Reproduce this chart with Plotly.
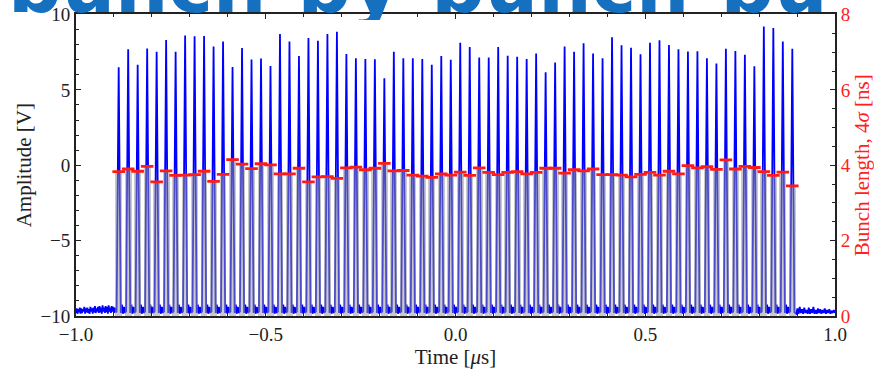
import plotly.graph_objects as go

# ---------------- data ----------------
bunch_time_us = [-0.8875, -0.8625, -0.8375, -0.8125, -0.7875, -0.7625, -0.7375, -0.7125, -0.6875, -0.6625,
                 -0.6375, -0.6125, -0.5875, -0.5625, -0.5375, -0.5125, -0.4875, -0.4625, -0.4375, -0.4125,
                 -0.3875, -0.3625, -0.3375, -0.3125, -0.2875, -0.2625, -0.2375, -0.2125, -0.1875, -0.1625,
                 -0.1375, -0.1125, -0.0875, -0.0625, -0.0375, -0.0125, 0.0125, 0.0375, 0.0625, 0.0875,
                 0.1125, 0.1375, 0.1625, 0.1875, 0.2125, 0.2375, 0.2625, 0.2875, 0.3125, 0.3375,
                 0.3625, 0.3875, 0.4125, 0.4375, 0.4625, 0.4875, 0.5125, 0.5375, 0.5625, 0.5875,
                 0.6125, 0.6375, 0.6625, 0.6875, 0.7125, 0.7375, 0.7625, 0.7875, 0.8125, 0.8375,
                 0.8625, 0.8875]

peak_amplitude_V = [6.50, 7.70, 6.66, 7.74, 7.52, 8.31, 7.52, 8.60, 8.56, 8.58,
                    7.87, 8.20, 6.52, 7.78, 7.01, 7.08, 6.59, 8.71, 8.20, 7.25,
                    8.44, 8.25, 8.71, 8.86, 7.38, 7.10, 7.05, 7.03, 5.77, 7.52,
                    7.10, 7.10, 7.05, 6.66, 7.25, 6.99, 8.13, 7.85, 7.14, 7.14,
                    7.85, 7.27, 7.19, 7.05, 7.41, 6.17, 6.81, 7.87, 7.52, 8.09,
                    7.41, 7.10, 8.49, 7.96, 7.80, 7.36, 8.13, 8.29, 7.98, 7.70,
                    7.54, 7.56, 7.10, 6.74, 7.72, 7.58, 7.32, 6.57, 9.20, 9.10,
                    8.20, 7.72]

bunch_length_ns = [3.83, 3.90, 3.84, 3.97, 3.56, 3.85, 3.73, 3.74, 3.75, 3.84,
                   3.57, 3.76, 4.15, 4.03, 3.91, 4.04, 4.01, 3.77, 3.77, 3.92,
                   3.56, 3.69, 3.70, 3.65, 3.93, 3.95, 3.88, 3.92, 4.05, 3.85,
                   3.86, 3.74, 3.71, 3.68, 3.77, 3.74, 3.82, 3.73, 3.93, 3.81,
                   3.75, 3.81, 3.83, 3.77, 3.81, 3.92, 3.92, 3.79, 3.88, 3.85,
                   3.90, 3.75, 3.75, 3.74, 3.69, 3.76, 3.81, 3.74, 3.84, 3.77,
                   3.99, 3.93, 3.96, 3.89, 4.14, 3.90, 3.97, 3.94, 3.83, 3.73,
                   3.82, 3.45]

# baseline (no beam) noise read off the trace before and after the train
pre_time_us = [-1.000, -0.998, -0.996, -0.994, -0.992, -0.990, -0.988, -0.986, -0.984, -0.982,
               -0.980, -0.978, -0.976, -0.974, -0.972, -0.970, -0.968, -0.966, -0.964, -0.962,
               -0.960, -0.958, -0.956, -0.954, -0.952, -0.950, -0.948, -0.946, -0.944, -0.942,
               -0.940, -0.938, -0.936, -0.934, -0.932, -0.930, -0.928, -0.926, -0.924, -0.922,
               -0.920, -0.918, -0.916, -0.914, -0.912, -0.910, -0.908, -0.906, -0.904, -0.902,
               -0.900, -0.898, -0.896]
pre_level_V = [-9.80, -9.50, -9.85, -9.55, -9.75, -9.45, -9.85, -9.50, -9.80, -9.55,
               -9.70, -9.40, -9.85, -9.50, -9.75, -9.45, -9.80, -9.55, -9.85, -9.40,
               -9.70, -9.50, -9.85, -9.45, -9.75, -9.35, -9.80, -9.50, -9.70, -9.40,
               -9.80, -9.35, -9.75, -9.45, -9.85, -9.30, -9.70, -9.45, -9.80, -9.35,
               -9.75, -9.40, -9.85, -9.30, -9.70, -9.45, -9.80, -9.35, -9.70, -9.40,
               -9.80, -9.45, -9.70]
post_time_us = [0.898, 0.901, 0.904, 0.907, 0.910, 0.913, 0.916, 0.919, 0.922, 0.925,
                0.928, 0.931, 0.934, 0.937, 0.940, 0.943, 0.946, 0.949, 0.952, 0.955,
                0.958, 0.961, 0.964, 0.967, 0.970, 0.973, 0.976, 0.979, 0.982, 0.985,
                0.988, 0.991, 0.994, 0.997, 1.000]
post_level_V = [-9.85, -9.50, -9.85, -9.40, -9.80, -9.55, -9.85, -9.45, -9.80, -9.60,
                -9.85, -9.45, -9.85, -9.55, -9.80, -9.40, -9.85, -9.60, -9.85, -9.50,
                -9.80, -9.55, -9.85, -9.60, -9.80, -9.50, -9.85, -9.60, -9.80, -9.55,
                -9.85, -9.65, -9.80, -9.60, -9.80]

# ringing between bunches: (offset after bunch [us], level [V])
ring_offset_us = [0.0055, 0.0085, 0.0110, 0.0140, 0.0170, 0.0195]
ring_level_V = [-9.80, -9.25, -9.85, -9.40, -9.80, -9.50]
spike_half_base_us = 0.0055
spike_foot_V = -9.75

heading_text = "bunch-by-bunch-bu"

assert len(bunch_time_us) == len(peak_amplitude_V) == len(bunch_length_ns) == 72

# ---------------- build waveform from the data ----------------
wx = list(pre_time_us)
wy = list(pre_level_V)
for i, (t, a) in enumerate(zip(bunch_time_us, peak_amplitude_V)):
    wx += [t - spike_half_base_us, t, t + spike_half_base_us]
    wy += [spike_foot_V, a, spike_foot_V]
    if i < len(bunch_time_us) - 1:
        wx += [t + o for o in ring_offset_us]
        wy += list(ring_level_V)
wx += post_time_us
wy += post_level_V

serif = "Liberation Serif"
W, H = 874, 374
L, R, T = 76, 835, 14.5                 # plot frame in page pixels
MB = 57.5                               # bottom margin
paper_h = H - MB

fig = go.Figure()
fig.add_trace(go.Scatter(x=wx, y=wy, mode="lines",
                         line=dict(color="#0000ff", width=1.8),
                         hoverinfo="skip", showlegend=False))
fig.add_trace(go.Bar(x=bunch_time_us, y=bunch_length_ns, yaxis="y2",
                     width=0.0178, marker=dict(color="rgb(150,150,150)", line=dict(width=0)),
                     opacity=0.5, showlegend=False))
fig.add_trace(go.Scatter(x=bunch_time_us, y=bunch_length_ns, yaxis="y2", mode="markers",
                         marker=dict(symbol="line-ew", size=9,
                                     line=dict(color="#ff1a1a", width=2.8)),
                         showlegend=False))

# cropped slide heading at the very top (clipped to a thin strip)
fig.add_trace(go.Scatter(x=[8], y=[27], xaxis="x3", yaxis="y3", mode="text",
                         text=["<b>" + heading_text + "</b>"], textposition="middle right",
                         textfont=dict(family="DejaVu Sans", size=75, color="#1670c0"),
                         cliponaxis=True, hoverinfo="skip", showlegend=False))

axis_line = "#222222"
fig.update_layout(
    width=W, height=H,
    margin=dict(l=0, r=0, t=0, b=MB, autoexpand=False),
    paper_bgcolor="white", plot_bgcolor="rgba(0,0,0,0)",
    font=dict(family=serif, size=19, color="#222222"),
    bargap=0,
    xaxis=dict(domain=[L / W, R / W], range=[-1, 1], tickmode="array", automargin=False,
               tickvals=[-1.0, -0.5, 0.0, 0.5, 1.0],
               ticktext=["\u22121.0", "\u22120.5", "0.0", "0.5", "1.0"],
               ticks="inside", ticklen=5, tickwidth=1.3, tickcolor=axis_line,
               minor=dict(dtick=0.1, ticks="inside", ticklen=3, tickcolor=axis_line, tickwidth=1),
               showline=True, linecolor=axis_line, linewidth=2, mirror="ticks",
               showgrid=False, zeroline=False,
               title=dict(text="Time [<i>\u03bc</i>s]", font=dict(size=21), standoff=4)),
    yaxis=dict(domain=[0, (paper_h - T) / paper_h], range=[-10, 10], tickmode="array",
               automargin=False,
               tickvals=[-10, -5, 0, 5, 10],
               ticktext=["\u221210", "\u22125", "0", "5", "10"],
               ticks="inside", ticklen=5, tickwidth=1.3, tickcolor=axis_line,
               minor=dict(dtick=1, ticks="inside", ticklen=3, tickcolor=axis_line, tickwidth=1),
               showline=True, linecolor=axis_line, linewidth=2,
               showgrid=False, zeroline=False,
               title=dict(text="Amplitude [V]", font=dict(size=21), standoff=3)),
    yaxis2=dict(range=[0, 8], overlaying="y", side="right", anchor="x", automargin=False,
                tickvals=[0, 2, 4, 6, 8],
                ticks="inside", ticklen=5, tickwidth=1.3, tickcolor=axis_line,
                minor=dict(dtick=0.5, ticks="inside", ticklen=3, tickcolor=axis_line, tickwidth=1),
                showline=True, linecolor=axis_line, linewidth=2,
                tickfont=dict(color="#ff2020", size=19),
                showgrid=False, zeroline=False,
                title=dict(text="Bunch length, 4<i>\u03c3</i> [ns]",
                           font=dict(size=21, color="#ff2020"), standoff=13)),
    xaxis3=dict(domain=[0, 1], range=[0, W], visible=False, fixedrange=True, anchor="y3",
                automargin=False),
    yaxis3=dict(domain=[(paper_h - 20) / paper_h, 1], range=[0, 20], visible=False,
                fixedrange=True, anchor="x3", automargin=False),
)

fig.write_html("out.html")
